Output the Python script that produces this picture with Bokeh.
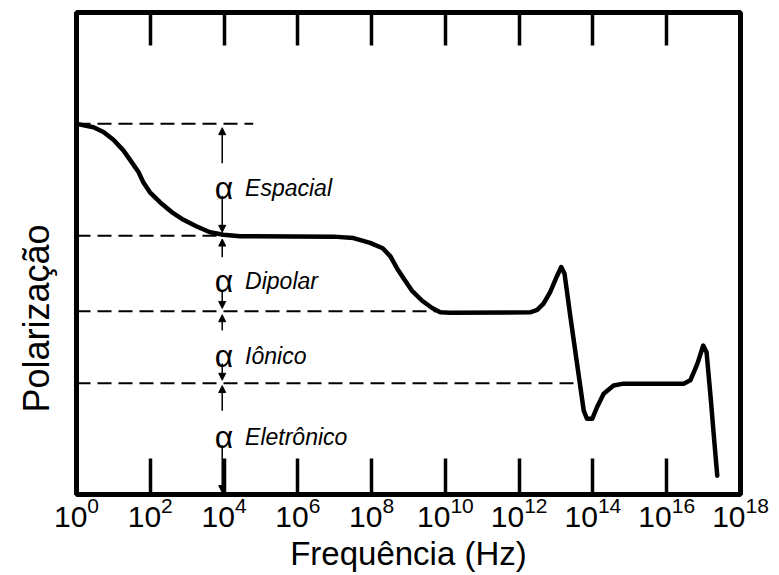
from bokeh.plotting import figure
from bokeh.models import (Range1d, FixedTicker, LogAxis, ColumnDataSource,
                          Arrow, NormalHead, Title)
from bokeh.core.properties import value
from bokeh.embed import file_html
from bokeh.resources import INLINE

FONT = "Liberation Sans"

# ---- data -------------------------------------------------------------
# curve: log10 of frequency (Hz) and polarization (arbitrary units 0-100)
curve_log_f = [0.0, 0.46, 0.73, 1.00, 1.27, 1.50, 1.68, 1.81, 1.99, 2.27,
               2.58, 2.90, 3.26, 3.62, 3.98, 4.44, 6.97, 7.51, 7.96, 8.30,
               8.51, 8.69, 8.87, 9.09, 9.37, 9.64, 9.86, 10.13, 12.30, 12.49,
               12.66, 12.84, 13.03, 13.14, 13.23, 13.39, 13.57, 13.75, 13.84, 13.98,
               14.11, 14.29, 14.56, 14.83, 16.46, 16.64, 16.83, 16.99, 17.08, 17.19,
               17.28, 17.37]
curve_pol = [76.9, 76.2, 75.2, 73.6, 71.4, 68.9, 66.9, 64.8, 62.7, 60.6,
             58.6, 57.0, 55.6, 54.4, 53.9, 53.6, 53.5, 53.2, 52.2, 51.1,
             49.4, 46.9, 44.8, 42.3, 40.2, 38.7, 37.8, 37.7, 37.8, 38.3,
             39.6, 42.0, 45.4, 47.2, 45.8, 36.8, 27.1, 17.4, 15.7, 15.7,
             18.1, 20.9, 22.6, 23.0, 23.0, 23.7, 27.1, 30.9, 29.5, 20.2,
             11.9, 3.9]

# dashed reference levels
level_pol = [76.9, 53.7, 38.0, 23.1]
level_end_log_f = [4.79, 3.95, 9.78, 13.58]

# contribution labels
label_names = ["Espacial", "Dipolar", "Iônico", "Eletrônico"]
label_pol = [63.6, 44.3, 28.8, 12.0]
label_log_f = 4.57
alpha_log_f = 4.0

# arrows (all at the same frequency)
arrow_log_f = 3.95
arrow_start_pol = [68.7, 62.0, 49.2, 42.3, 34.0, 27.2, 17.4, 10.2]
arrow_end_pol = [76.1, 54.4, 53.0, 38.6, 37.3, 23.7, 22.6, 0.4]

# axis ticks
label_exponents = [0, 2, 4, 6, 8, 10, 12, 14, 16, 18]
mark_exponents = [2, 4, 6, 8, 10, 12, 14, 16]

# ---- figure -----------------------------------------------------------
p = figure(width=779, height=575, x_axis_type="log",
           x_range=Range1d(10.0 ** 0, 10.0 ** 18), y_range=Range1d(0, 100),
           output_backend="svg", toolbar_location=None,
           min_border_left=76, min_border_right=39,
           min_border_top=12, min_border_bottom=81)
p.background_fill_color = "white"
p.border_fill_color = "white"
p.outline_line_color = "black"
p.outline_line_width = 5
p.xgrid.visible = False
p.ygrid.visible = False

# bottom axis
xa = p.xaxis[0]
xa.ticker = FixedTicker(ticks=[10.0 ** e for e in label_exponents])
xa.axis_line_color = None
xa.major_tick_in = 36
xa.major_tick_out = 0
xa.major_tick_line_width = 3.5
xa.minor_tick_line_color = None
xa.major_label_text_font = FONT
xa.major_label_text_font_size = "30px"
xa.major_label_text_color = "black"
xa.major_label_standoff = 2
xa.axis_label = "Frequência (Hz)"
xa.axis_label_text_font = FONT
xa.axis_label_text_font_size = "33px"
xa.axis_label_text_font_style = "normal"
xa.axis_label_text_color = "black"
xa.axis_label_standoff = 5

# top axis (tick marks only)
top = LogAxis(ticker=FixedTicker(ticks=[10.0 ** e for e in mark_exponents]))
top.axis_line_color = None
top.major_tick_in = 33
top.major_tick_out = 0
top.major_tick_line_width = 3.5
top.minor_tick_line_color = None
top.major_label_text_font_size = "1px"
top.major_label_text_color = None
top.major_label_standoff = 0
p.add_layout(top, "above")

# left axis (no ticks, no labels)
ya = p.yaxis[0]
ya.axis_line_color = None
ya.major_tick_line_color = None
ya.minor_tick_line_color = None
ya.major_label_text_font_size = "1px"
ya.major_label_text_color = None
ya.major_label_standoff = 0

# y-axis title, placed lower than the frame centre as in the reference
p.add_layout(Title(text="Polarização", align="left", offset=82, standoff=27,
                   text_font=FONT, text_font_size="36px",
                   text_font_style="normal", text_color="black"), "left")

# dashed levels
for lp, le in zip(level_pol, level_end_log_f):
    p.line(x=[10.0 ** 0, 10.0 ** le], y=[lp, lp], line_color="black",
           line_width=2, line_dash="14 7")

# curve
p.line(x=[10.0 ** v for v in curve_log_f], y=curve_pol, line_color="black",
       line_width=4.5, line_join="round", line_cap="round")

# arrows
asrc = ColumnDataSource(dict(
    x0=[10.0 ** arrow_log_f] * len(arrow_start_pol), y0=arrow_start_pol,
    x1=[10.0 ** arrow_log_f] * len(arrow_end_pol), y1=arrow_end_pol))
p.add_layout(Arrow(end=NormalHead(size=7, fill_color="black", line_color="black"),
                   x_start="x0", y_start="y0", x_end="x1", y_end="y1",
                   line_width=1.5, line_color="black", source=asrc))

# labels
p.text(x=[10.0 ** alpha_log_f] * len(label_pol), y=label_pol,
       text=["α"] * len(label_pol), text_font=value(FONT), text_font_size="32px",
       text_align="center", text_baseline="alphabetic", text_color="black")
p.text(x=[10.0 ** label_log_f] * len(label_pol), y=label_pol, text=label_names,
       text_font=value(FONT), text_font_size="23px", text_font_style="italic",
       text_align="left", text_baseline="alphabetic", text_color="black")

open("out.html", "w").write(file_html(p, INLINE))
